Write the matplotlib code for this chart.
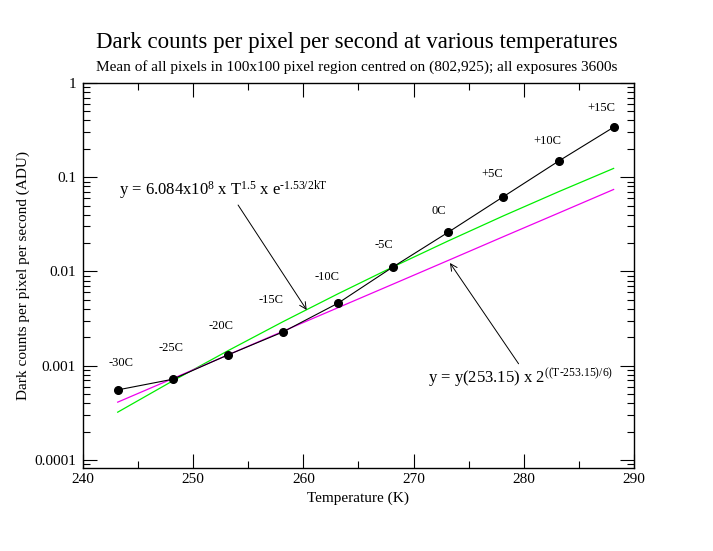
import matplotlib
matplotlib.use("Agg")
import matplotlib.pyplot as plt
from matplotlib.ticker import MultipleLocator, LogLocator, NullFormatter, FixedLocator, FixedFormatter

plt.rcParams['font.family'] = ['Liberation Serif', 'DejaVu Serif']
plt.rcParams['mathtext.fontset'] = 'custom'
plt.rcParams['mathtext.rm'] = 'Liberation Serif'
plt.rcParams['mathtext.it'] = 'Liberation Serif'

# measured temperatures (K) and dark counts (ADU / pixel / s)
temps = [243.15, 248.15, 253.15, 258.15, 263.15, 268.15, 273.15, 278.15, 283.15, 288.15]
counts = [5.53e-4, 7.18e-4, 1.30e-3, 2.28e-3, 4.61e-3, 0.0112, 0.0261, 0.0622, 0.148, 0.339]
labels = ["-30C", "-25C", "-20C", "-15C", "-10C", "-5C", "0C", "+5C", "+10C", "+15C"]

# model curves
green_fit = [3.21e-4, 6.90e-4, 1.44e-3, 2.93e-3, 5.80e-3, 1.12e-2, 2.11e-2, 3.89e-2, 7.01e-2, 1.24e-1]
magenta_fit = [4.10e-4, 7.30e-4, 1.30e-3, 2.32e-3, 4.13e-3, 7.35e-3, 1.31e-2, 2.34e-2, 4.16e-2, 7.41e-2]

# label offsets in pixels (dx, dy) from each point
label_off = [(3, 27), (-2, 31), (-7, 29), (-12, 32), (-11, 26), (-9, 22), (-9, 21), (-11, 23), (-11, 20), (-12, 19)]

fig = plt.figure(figsize=(7.13, 5.51), dpi=100)
ax = fig.add_axes([0.1164, 0.1506, 0.7728, 0.6988])

ax.plot(temps, green_fit, color='#00ee00', lw=0.9)
ax.plot(temps, magenta_fit, color='#ee00ee', lw=0.9)
ax.plot(temps, counts, color='black', lw=0.8, marker='o', ms=5.5)

for t, c, lab, off in zip(temps, counts, labels, label_off):
    ax.annotate(lab, (t, c), xytext=off, textcoords='offset pixels',
                ha='center', va='center', fontsize=9)

ax.set_yscale('log')
ax.set_xlim(240, 290)
ax.set_ylim(8.2e-5, 1)

ax.xaxis.set_major_locator(MultipleLocator(10))
ax.xaxis.set_minor_locator(MultipleLocator(5))
ax.yaxis.set_major_locator(FixedLocator([1e-4, 1e-3, 1e-2, 1e-1, 1]))
ax.yaxis.set_major_formatter(FixedFormatter(["0.0001", "0.001", "0.01", "0.1", "1"]))
ax.yaxis.set_minor_locator(LogLocator(base=10, subs=range(2, 10)))
ax.yaxis.set_minor_formatter(NullFormatter())
ax.tick_params(which='both', direction='in', top=True, right=True, width=0.8, labelsize=11)
ax.tick_params(axis='y', pad=5)
ax.tick_params(which='major', length=10)
ax.tick_params(which='minor', length=5)
for s in ax.spines.values():
    s.set_linewidth(1.0)

ax.set_xlabel("Temperature (K)", fontsize=11, labelpad=4)
ax.set_ylabel("Dark counts per pixel per second (ADU)", fontsize=11, labelpad=3)

fig.text(0.5, 0.912, "Dark counts per pixel per second at various temperatures",
         ha='center', fontsize=16.5)
fig.text(0.5, 0.872, "Mean of all pixels in 100x100 pixel region centred on (802,925); all exposures 3600s",
         ha='center', fontsize=11)

hy = "\u2010"
ax.annotate(r"y = 6.084x10$^{8}$ x T$^{1.5}$ x e$^{" + hy + r"1.53/2kT}$",
            xy=(260.3, 0.0039), xytext=(243.3, 0.072), textcoords='data',
            fontsize=12, ha='left', va='center',
            arrowprops=dict(arrowstyle='->', color='black', lw=0.7,
                            shrinkA=0, shrinkB=0, relpos=(0.56, 0.0)))
ax.annotate(r"y = y(253.15) x 2$^{((T" + hy + r"253.15)/6)}$",
            xy=(273.3, 0.0123), xytext=(271.3, 0.00074), textcoords='data',
            fontsize=12, ha='left', va='center',
            arrowprops=dict(arrowstyle='->', color='black', lw=0.7,
                            shrinkA=0, shrinkB=0, relpos=(0.5, 1.0)))

fig.savefig("out.png", dpi=100)
